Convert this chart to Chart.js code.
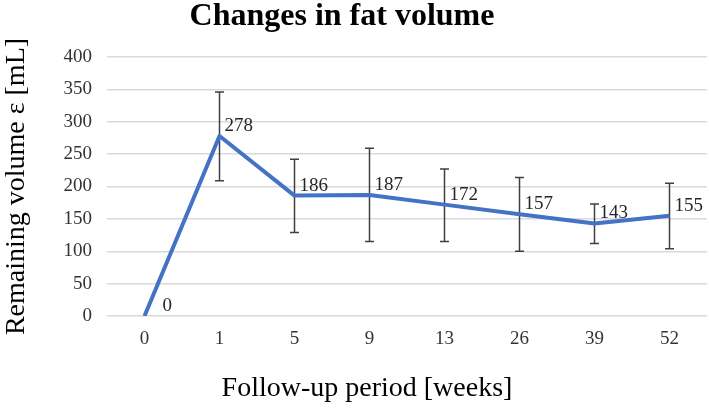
<!DOCTYPE html>
<html>
<head>
<meta charset="utf-8">
<script src="https://cdn.jsdelivr.net/npm/chart.js@4/dist/chart.umd.min.js"></script>
<style>
  html, body { margin: 0; padding: 0; background: #fff; }
  #wrap { width: 709px; height: 412px; position: relative; }
</style>
</head>
<body>
<div id="wrap"><canvas id="fatChart"></canvas></div>
<script>
// follow-up weeks (categories)
const weeks = ['0', '1', '5', '9', '13', '26', '39', '52'];
// mean remaining volume [mL]
const volume = [0, 278, 186, 187, 172, 157, 143, 155];
// error bar ends
const errLow = [null, 209, 129, 115, 115, 100, 112, 104];
const errHigh = [null, 346, 242, 259, 227, 214, 173, 205];
const yTicks = [0, 50, 100, 150, 200, 250, 300, 350, 400];

const serif = "'Liberation Serif', 'DejaVu Serif', serif";

// error bars, drawn under the line
const errorBars = {
  id: 'errorBars',
  beforeDatasetsDraw(chart) {
    const { ctx, scales: { x, y } } = chart;
    ctx.save();
    ctx.strokeStyle = '#404040';
    ctx.lineWidth = 1.5;
    weeks.forEach((_, i) => {
      if (errLow[i] == null) return;
      const px = x.getPixelForValue(i);
      const top = y.getPixelForValue(errHigh[i]);
      const bot = y.getPixelForValue(errLow[i]);
      ctx.beginPath();
      ctx.moveTo(px, top); ctx.lineTo(px, bot);
      ctx.moveTo(px - 4.5, top); ctx.lineTo(px + 4.5, top);
      ctx.moveTo(px - 4.5, bot); ctx.lineTo(px + 4.5, bot);
      ctx.stroke();
    });
    ctx.restore();
  }
};

// value labels next to each point
const valueLabels = {
  id: 'valueLabels',
  afterDatasetsDraw(chart) {
    const { ctx } = chart;
    const meta = chart.getDatasetMeta(0);
    ctx.save();
    ctx.font = '19px ' + serif;
    ctx.fillStyle = '#262626';
    ctx.textAlign = 'left';
    ctx.textBaseline = 'middle';
    meta.data.forEach((pt, i) => {
      const dx = volume[i] === 0 ? 18 : 5;
      ctx.fillText(String(volume[i]), pt.x + dx, pt.y - 10);
    });
    ctx.restore();
  }
};

// chart title and x axis title (not centred on the plot in the original)
const titles = {
  id: 'titles',
  afterDraw(chart) {
    const { ctx } = chart;
    ctx.save();
    ctx.fillStyle = '#000';
    ctx.textAlign = 'center';
    ctx.textBaseline = 'middle';
    ctx.font = 'bold 32px ' + serif;
    ctx.fillText('Changes in fat volume', 342, 17);
    ctx.font = '28px ' + serif;
    ctx.fillText('Follow-up period [weeks]', 367, 389);
    ctx.restore();
  }
};

new Chart(document.getElementById('fatChart'), {
  type: 'line',
  data: {
    labels: weeks,
    datasets: [{
      data: volume,
      borderColor: '#4472C4',
      borderWidth: 4,
      borderJoinStyle: 'round',
      pointRadius: 0,
      tension: 0,
      fill: false
    }]
  },
  options: {
    responsive: true,
    maintainAspectRatio: false,
    animation: false,
    layout: { padding: { top: 57, right: 2, left: 0, bottom: 0 } },
    plugins: {
      legend: { display: false },
      title: { display: false },
      tooltip: { enabled: false }
    },
    scales: {
      x: {
        offset: true,
        grid: { display: false, drawTicks: false },
        border: { display: false },
        ticks: { color: '#333333', font: { family: serif, size: 19 }, padding: 12 },
        afterFit(s) { s.height = 96; }
      },
      y: {
        min: 0,
        max: 400,
        afterBuildTicks(s) { s.ticks = yTicks.map(v => ({ value: v })); },
        grid: { color: '#d9d9d9', lineWidth: 1.5, drawTicks: false },
        border: { display: false },
        ticks: { color: '#333333', font: { family: serif, size: 19 }, padding: 15 },
        title: {
          display: true,
          text: 'Remaining volume ε [mL]',
          color: '#000',
          font: { family: serif, size: 28 },
          padding: { top: 0, bottom: 0 }
        },
        afterFit(s) { s.width = 107; }
      }
    }
  },
  plugins: [errorBars, valueLabels, titles]
});
</script>
</body>
</html>
